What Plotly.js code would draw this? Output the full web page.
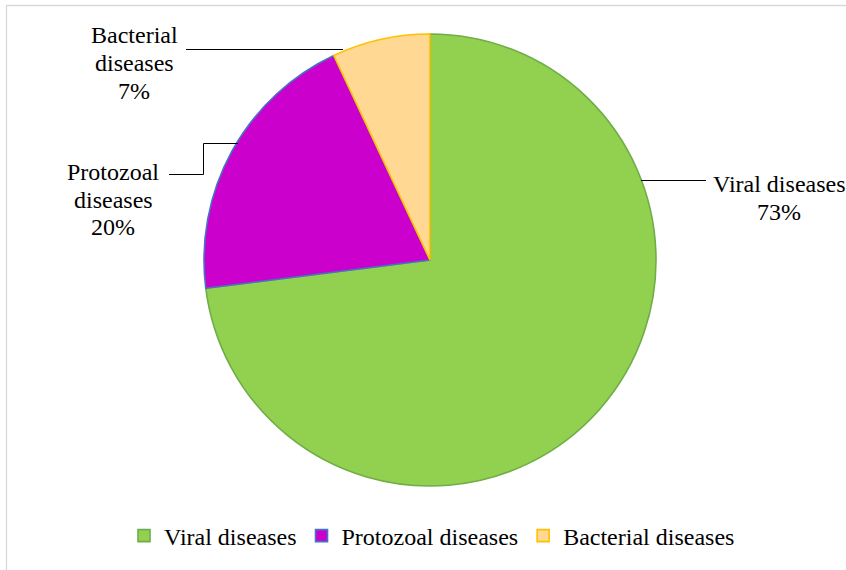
<!DOCTYPE html>
<html>
<head>
<meta charset="utf-8">
<script src="https://cdn.plot.ly/plotly-3.0.1.min.js"></script>
<style>
html,body{margin:0;padding:0;background:#fff;font-family:'Liberation Serif',serif;}
#chart{width:846px;height:570px;}
#fontwarm{position:absolute;left:0;top:0;visibility:hidden;font-family:'Liberation Serif';font-size:24px;}
</style>
</head>
<body>
<div id="fontwarm">Viral Protozoal Bacterial diseases 0123456789%</div>
<div id="chart"></div>
<script>
// ---- data ----
const categories = ["Viral diseases", "Protozoal diseases", "Bacterial diseases"];
const shares = [73, 20, 7];
const labelLines = [["Viral diseases"], ["Protozoal", "diseases"], ["Bacterial", "diseases"]];
const fillColors = ["#92D050", "#CC00CC", "#FFD993"];
const edgeColors = ["#70AD47", "#4472C4", "#FFC000"];

// ---- layout helpers (pixel -> paper, margins are zero) ----
const W = 846, H = 570;
const px = x => x / W;
const py = y => 1 - y / H;
const FONT = "Liberation Serif";
const FS = 24;

// label block: centre x, y of first line, line step (pixels)
const labelPos = [[779, 183.5, 28.5], [113, 172, 27.5], [134, 35, 28]];
const annotations = [];
categories.forEach((c, i) => {
  const lines = labelLines[i].concat([shares[i] + "%"]);
  lines.forEach((t, k) => {
    annotations.push({
      xref: "paper", yref: "paper",
      x: px(labelPos[i][0]), y: py(labelPos[i][1] + k * labelPos[i][2]),
      xanchor: "center", yanchor: "middle", align: "center",
      showarrow: false, text: t,
      font: {family: FONT, size: FS, color: "#000"}
    });
  });
});

const leader = (pts) => ({
  type: "path", xref: "paper", yref: "paper",
  path: "M" + pts.map(p => px(p[0]) + "," + py(p[1])).join(" L"),
  line: {color: "#000", width: 1}
});

const shapes = [
  {type: "rect", xref: "paper", yref: "paper", x0: px(6.5), y0: py(5.5), x1: px(860), y1: py(590),
   line: {color: "#D9D9D9", width: 1.3}, fillcolor: "rgba(0,0,0,0)"},
  leader([[641, 180.5], [706, 180.5]]),
  leader([[238, 143.5], [203.5, 143.5], [203.5, 174.5], [169, 174.5]]),
  leader([[186, 49.5], [343, 49.5]])
];

const data = [{
  type: "pie",
  labels: categories,
  values: shares,
  sort: false,
  direction: "clockwise",
  rotation: 0,
  textinfo: "none",
  hoverinfo: "label+percent",
  marker: {colors: fillColors, line: {color: edgeColors, width: 1.6}},
  domain: {x: [px(204), px(656)], y: [py(486), py(34)]}
}];

const layout = {
  width: W, height: H,
  margin: {l: 0, r: 0, t: 0, b: 0},
  paper_bgcolor: "#fff",
  font: {family: FONT, size: FS, color: "#000"},
  showlegend: true,
  legend: {
    orientation: "h", x: px(432), xanchor: "center", y: py(536), yanchor: "middle",
    font: {family: FONT, size: FS, color: "#000"}, itemwidth: 30, traceorder: "normal"
  },
  annotations: annotations,
  shapes: shapes
};

Plotly.newPlot("chart", data, layout, {displayModeBar: false});
</script>
</body>
</html>
